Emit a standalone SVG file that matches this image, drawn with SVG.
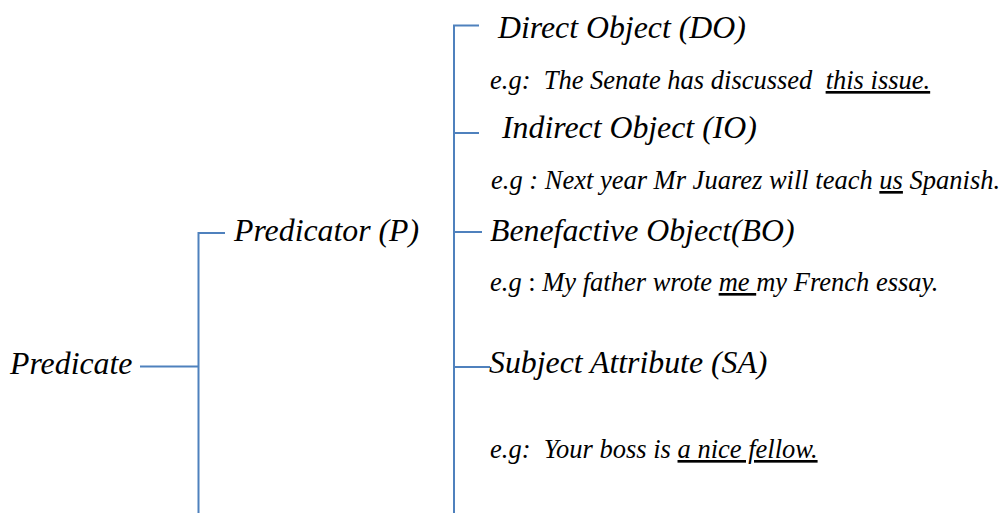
<svg xmlns="http://www.w3.org/2000/svg" width="1004" height="513" viewBox="0 0 1004 513">
<style>
.t{font-family:"Liberation Serif","Times New Roman",serif;font-style:italic;fill:#000}
.h{font-size:31.8px}
.e{font-size:26.5px}
.u{text-decoration:underline}
.c{stroke:#4F81BD;stroke-width:2;fill:none}
</style>
<rect width="1004" height="513" fill="#fff"/>
<g id="connectors">
<path class="c" d="M140,366.5H198.5M225,233H198.5V513"/>
<path class="c" d="M479,25.5H454V513M454,133H479M454,232H482M454,367H490"/>
</g>
<g id="predicate"><text class="t h" x="10" y="374">Predicate</text></g>
<g id="predicator"><text class="t h" x="234" y="241">Predicator (P)</text></g>
<g id="do">
<text class="t h" x="498" y="38">Direct Object (DO)</text>
<text class="t e" x="490" y="89" xml:space="preserve">e.g:  The Senate has discussed  <tspan class="u">this issue.</tspan></text>
</g>
<g id="io">
<text class="t h" x="502" y="138">Indirect Object (IO)</text>
<text class="t e" x="491" y="189" xml:space="preserve">e.g : Next year Mr Juarez will teach <tspan class="u">us</tspan> Spanish.</text>
</g>
<g id="bo">
<text class="t h" x="490" y="241">Benefactive Object(BO)</text>
<text class="t e" x="490" y="291" xml:space="preserve">e.g <tspan font-style="normal">:</tspan> My father wrote <tspan class="u">me </tspan>my French essay.</text>
</g>
<g id="sa">
<text class="t h" x="489" y="373">Subject Attribute (SA)</text>
<text class="t e" x="490" y="458" xml:space="preserve">e.g:  Your boss is <tspan class="u">a nice fellow.</tspan></text>
</g>
</svg>
